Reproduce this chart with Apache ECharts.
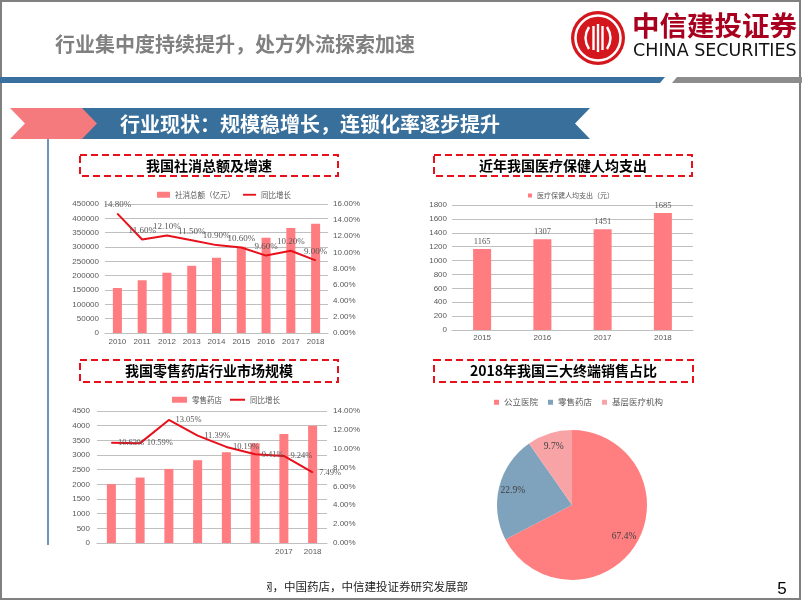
<!DOCTYPE html>
<html><head><meta charset="utf-8">
<script src="https://cdn.jsdelivr.net/npm/echarts@6/dist/echarts.min.js"></script>
<style>html,body{margin:0;padding:0;background:#fff}#c{width:802px;height:602px}</style>
</head><body><div id="c"></div>
<script>
// ---- data ----
const retailYears = ['2010','2011','2012','2013','2014','2015','2016','2017','2018'];
const retailSales = [156998,183919,210307,234380,262394,300931,332316,366262,380987];
const retailGrowth = [14.8,11.6,12.1,11.5,10.9,10.6,9.6,10.2,9.0];

const healthYears = ['2015','2016','2017','2018'];
const healthSpend = [1165,1307,1451,1685];

const pharmacyTickLabels = ['','','','','','','2017','2018'];
const pharmacySales = [2007,2231,2527,2823,3095,3401,3718,4000];
const pharmacyGrowth = [10.63,10.59,13.05,11.39,10.19,9.41,9.24,7.49];

const terminalNames = ['公立医院','零售药店','基层医疗机构'];
const terminalShares = [67.4,22.9,9.7];

// ---- styles ----
const PINK = '#ff7c80', RED = '#e8101a', AX = '#595959', GRID = '#c0c0c0';
const pieColors = ['#ff7f80','#7fa3bd','#f8a4a7'];
const CJK = '"Noto Sans CJK SC"';
const SERIF = '"Liberation Serif","DejaVu Serif",serif';

const pct2 = v => Number(v).toFixed(2) + '%';
const plain = v => String(v);
const pieData = terminalNames.map((n,i)=>({name:n, value:terminalShares[i], itemStyle:{color:pieColors[i]}}));

function txt(text, x, y, font, fill, align){
  return {type:'text', silent:true, style:{text, x, y, font, fill, align: align||'left', verticalAlign:'middle'}};
}
function dashBox(x,y,w,h){
  return {type:'rect', silent:true, shape:{x,y,width:w,height:h}, style:{fill:'none', stroke:'#e8101a', lineWidth:2, lineDash:[7,4]}};
}
function wline(x1,y1,x2,y2){
  return {type:'line', silent:true, shape:{x1,y1,x2,y2}, style:{stroke:'#fff', lineWidth:2.4}};
}
function wcurve(x1,y1,cx,cy,x2,y2){
  return {type:'bezierCurve', silent:true, shape:{x1,y1,x2,y2,cpx1:cx,cpy1:cy}, style:{stroke:'#fff', lineWidth:2.4, fill:'none'}};
}

const chart = echarts.init(document.getElementById('c'), null, {renderer:'canvas'});
chart.setOption({
  animation:false,
  backgroundColor:'#fff',
  textStyle:{fontFamily:'"Liberation Sans", Arial, sans-serif'},
  graphic:[
    {type:'rect', silent:true, shape:{x:1,y:1,width:799,height:598}, style:{fill:'none', stroke:'#808080', lineWidth:2}},
    txt('行业集中度持续提升，处方外流探索加速', 55, 44, 'bold 20px '+CJK, '#808080'),
    // logo
    {type:'circle', silent:true, shape:{cx:598, cy:38, r:27}, style:{fill:'#d4161d'}},
    {type:'circle', silent:true, shape:{cx:598, cy:38, r:22.5}, style:{fill:'none', stroke:'#fff', lineWidth:2.5}},
    wcurve(589,27,582,38,589,49), wcurve(607,27,614,38,607,49),
    wline(593.5,26,593.5,50), wline(598,24,598,52), wline(602.5,26,602.5,50),
    txt('中信建投证券', 632, 26, 'bold 27.5px '+CJK, '#a8001e'),
    txt('CHINA SECURITIES', 633, 51, '17.5px "DejaVu Sans"', '#111'),
    // header bars
    {type:'polygon', silent:true, shape:{points:[[0,77],[665,77],[660,83],[0,83]]}, style:{fill:'#3a70a0'}},
    {type:'polygon', silent:true, shape:{points:[[677,77],[802,77],[802,83],[672,83]]}, style:{fill:'#8c8c8c'}},
    // banner
    {type:'polygon', silent:true, shape:{points:[[82,108],[590,108],[575,123.5],[590,139],[82,139]]}, style:{fill:'#396f9b'}},
    {type:'polygon', silent:true, shape:{points:[[10,108],[82,108],[97,123.5],[82,139],[10,139],[25,123.5]]}, style:{fill:'#f47a7e'}},
    txt('行业现状：规模稳增长，连锁化率逐步提升', 120, 124, 'bold 20px '+CJK, '#fff'),
    {type:'line', silent:true, shape:{x1:48,y1:139,x2:48,y2:545}, style:{stroke:'#41719c', lineWidth:1.5}},
    // chart titles
    dashBox(80,155,258,21), txt('我国社消总额及增速', 209, 165.5, 'bold 14px '+CJK, '#000', 'center'),
    dashBox(434,155,258,21), txt('近年我国医疗保健人均支出', 563, 165.5, 'bold 14px '+CJK, '#000', 'center'),
    dashBox(80,360,258,22), txt('我国零售药店行业市场规模', 209, 371, 'bold 14px '+CJK, '#000', 'center'),
    dashBox(434,360,259,22), txt('2018年我国三大终端销售占比', 563.5, 371, 'bold 14px '+CJK, '#000', 'center'),
    // footer
    txt('网，中国药店，中信建投证券研究发展部', 261, 587, '11.5px '+CJK, '#222'),
    {type:'rect', silent:true, z:10, shape:{x:240,y:577,width:27,height:20}, style:{fill:'#fff'}},
    txt('5', 782, 589, '17px "Liberation Sans"', '#000', 'center')
  ],
  legend:[
    {left:152, top:186, itemWidth:13, itemHeight:6, itemGap:8, selectedMode:false,
     textStyle:{fontSize:7.5, color:AX, fontFamily:CJK},
     data:[{name:'社消总额（亿元）', icon:'rect'}, {name:'同比增长', icon:'path://M0,0H14V2H0Z'}]},
    {left:523, top:187, itemWidth:4, itemHeight:4, itemGap:4, selectedMode:false,
     textStyle:{fontSize:7, color:AX, fontFamily:CJK},
     data:[{name:'医疗保健人均支出（元）', icon:'rect'}]},
    {left:167, top:391, itemWidth:15, itemHeight:6, itemGap:8, selectedMode:false,
     textStyle:{fontSize:7.5, color:AX, fontFamily:CJK},
     data:[{name:'零售药店', icon:'rect'}, {name:'同比增长', icon:'path://M0,0H15V2H0Z'}]},
    {left:489, top:393, itemWidth:5, itemHeight:5, itemGap:10, selectedMode:false,
     textStyle:{fontSize:8.5, color:AX, fontFamily:CJK},
     data:terminalNames.map((n,i)=>({name:n, icon:'rect', itemStyle:{color:pieColors[i]}}))}
  ],
  grid:[
    {left:105, top:204, width:223, height:129},
    {left:452, top:205, width:241, height:125},
    {left:97, top:411, width:230, height:132}
  ],
  xAxis:[
    {type:'category', gridIndex:0, data:retailYears, axisTick:{show:false},
     axisLine:{lineStyle:{color:GRID}}, axisLabel:{fontSize:8, color:AX, margin:5}},
    {type:'category', gridIndex:1, data:healthYears, axisTick:{show:false},
     axisLine:{lineStyle:{color:GRID}}, axisLabel:{fontSize:8, color:AX, margin:4}},
    {type:'category', gridIndex:2, data:pharmacyTickLabels, axisTick:{show:false},
     axisLine:{lineStyle:{color:GRID}}, axisLabel:{fontSize:8, color:AX, margin:5, interval:0}}
  ],
  yAxis:[
    {type:'value', gridIndex:0, min:0, max:450000, interval:50000,
     splitLine:{lineStyle:{color:GRID}}, axisLabel:{fontSize:8, color:AX, margin:6, formatter:plain}},
    {type:'value', gridIndex:0, position:'right', min:0, max:16, interval:2, splitLine:{show:false},
     axisLabel:{fontSize:8, color:AX, margin:5, formatter:pct2}},
    {type:'value', gridIndex:1, min:0, max:1800, interval:200,
     splitLine:{lineStyle:{color:GRID}}, axisLabel:{fontSize:8, color:AX, margin:5, formatter:plain}},
    {type:'value', gridIndex:2, min:0, max:4500, interval:500,
     splitLine:{lineStyle:{color:GRID}}, axisLabel:{fontSize:8, color:AX, margin:7, formatter:plain}},
    {type:'value', gridIndex:2, position:'right', min:0, max:14, interval:2, splitLine:{show:false},
     axisLabel:{fontSize:8, color:AX, margin:6, formatter:pct2}}
  ],
  series:[
    {type:'bar', name:'社消总额（亿元）', xAxisIndex:0, yAxisIndex:0, data:retailSales,
     barWidth:9, itemStyle:{color:PINK}, silent:true},
    {type:'line', name:'同比增长', xAxisIndex:0, yAxisIndex:1, data:retailGrowth,
     symbol:'circle', symbolSize:1, itemStyle:{color:RED}, lineStyle:{color:RED, width:2}, silent:true,
     label:{show:true, position:'top', distance:4, formatter:p=>pct2(p.value), fontFamily:SERIF, fontSize:9, color:AX}},
    {type:'bar', name:'医疗保健人均支出（元）', xAxisIndex:1, yAxisIndex:2, data:healthSpend,
     barWidth:18, itemStyle:{color:PINK}, silent:true,
     label:{show:true, position:'top', distance:3, fontFamily:SERIF, fontSize:8.5, color:AX}},
    {type:'bar', name:'零售药店', xAxisIndex:2, yAxisIndex:3, data:pharmacySales,
     barWidth:9, itemStyle:{color:PINK}, silent:true},
    {type:'line', name:'同比增长', xAxisIndex:2, yAxisIndex:4, data:pharmacyGrowth,
     symbol:'circle', symbolSize:1, itemStyle:{color:RED}, lineStyle:{color:RED, width:2}, silent:true,
     label:{show:true, position:'right', distance:6, formatter:p=>pct2(p.value), fontFamily:SERIF, fontSize:8.5, color:AX}},
    {type:'pie', name:'终端占比', center:[572,505], radius:[41,75], startAngle:90, clockwise:true,
     data:pieData, silent:true, labelLine:{show:false},
     label:{show:true, position:'inside', formatter:p=>Number(p.value).toFixed(1)+'%', fontFamily:SERIF, fontSize:9.5, color:'#404040'}},
    {type:'pie', name:'终端占比内', center:[572,505], radius:[0,42], startAngle:90, clockwise:true, z:3,
     data:pieData, silent:true, label:{show:false}, labelLine:{show:false}}
  ]
});
</script>
</body></html>
